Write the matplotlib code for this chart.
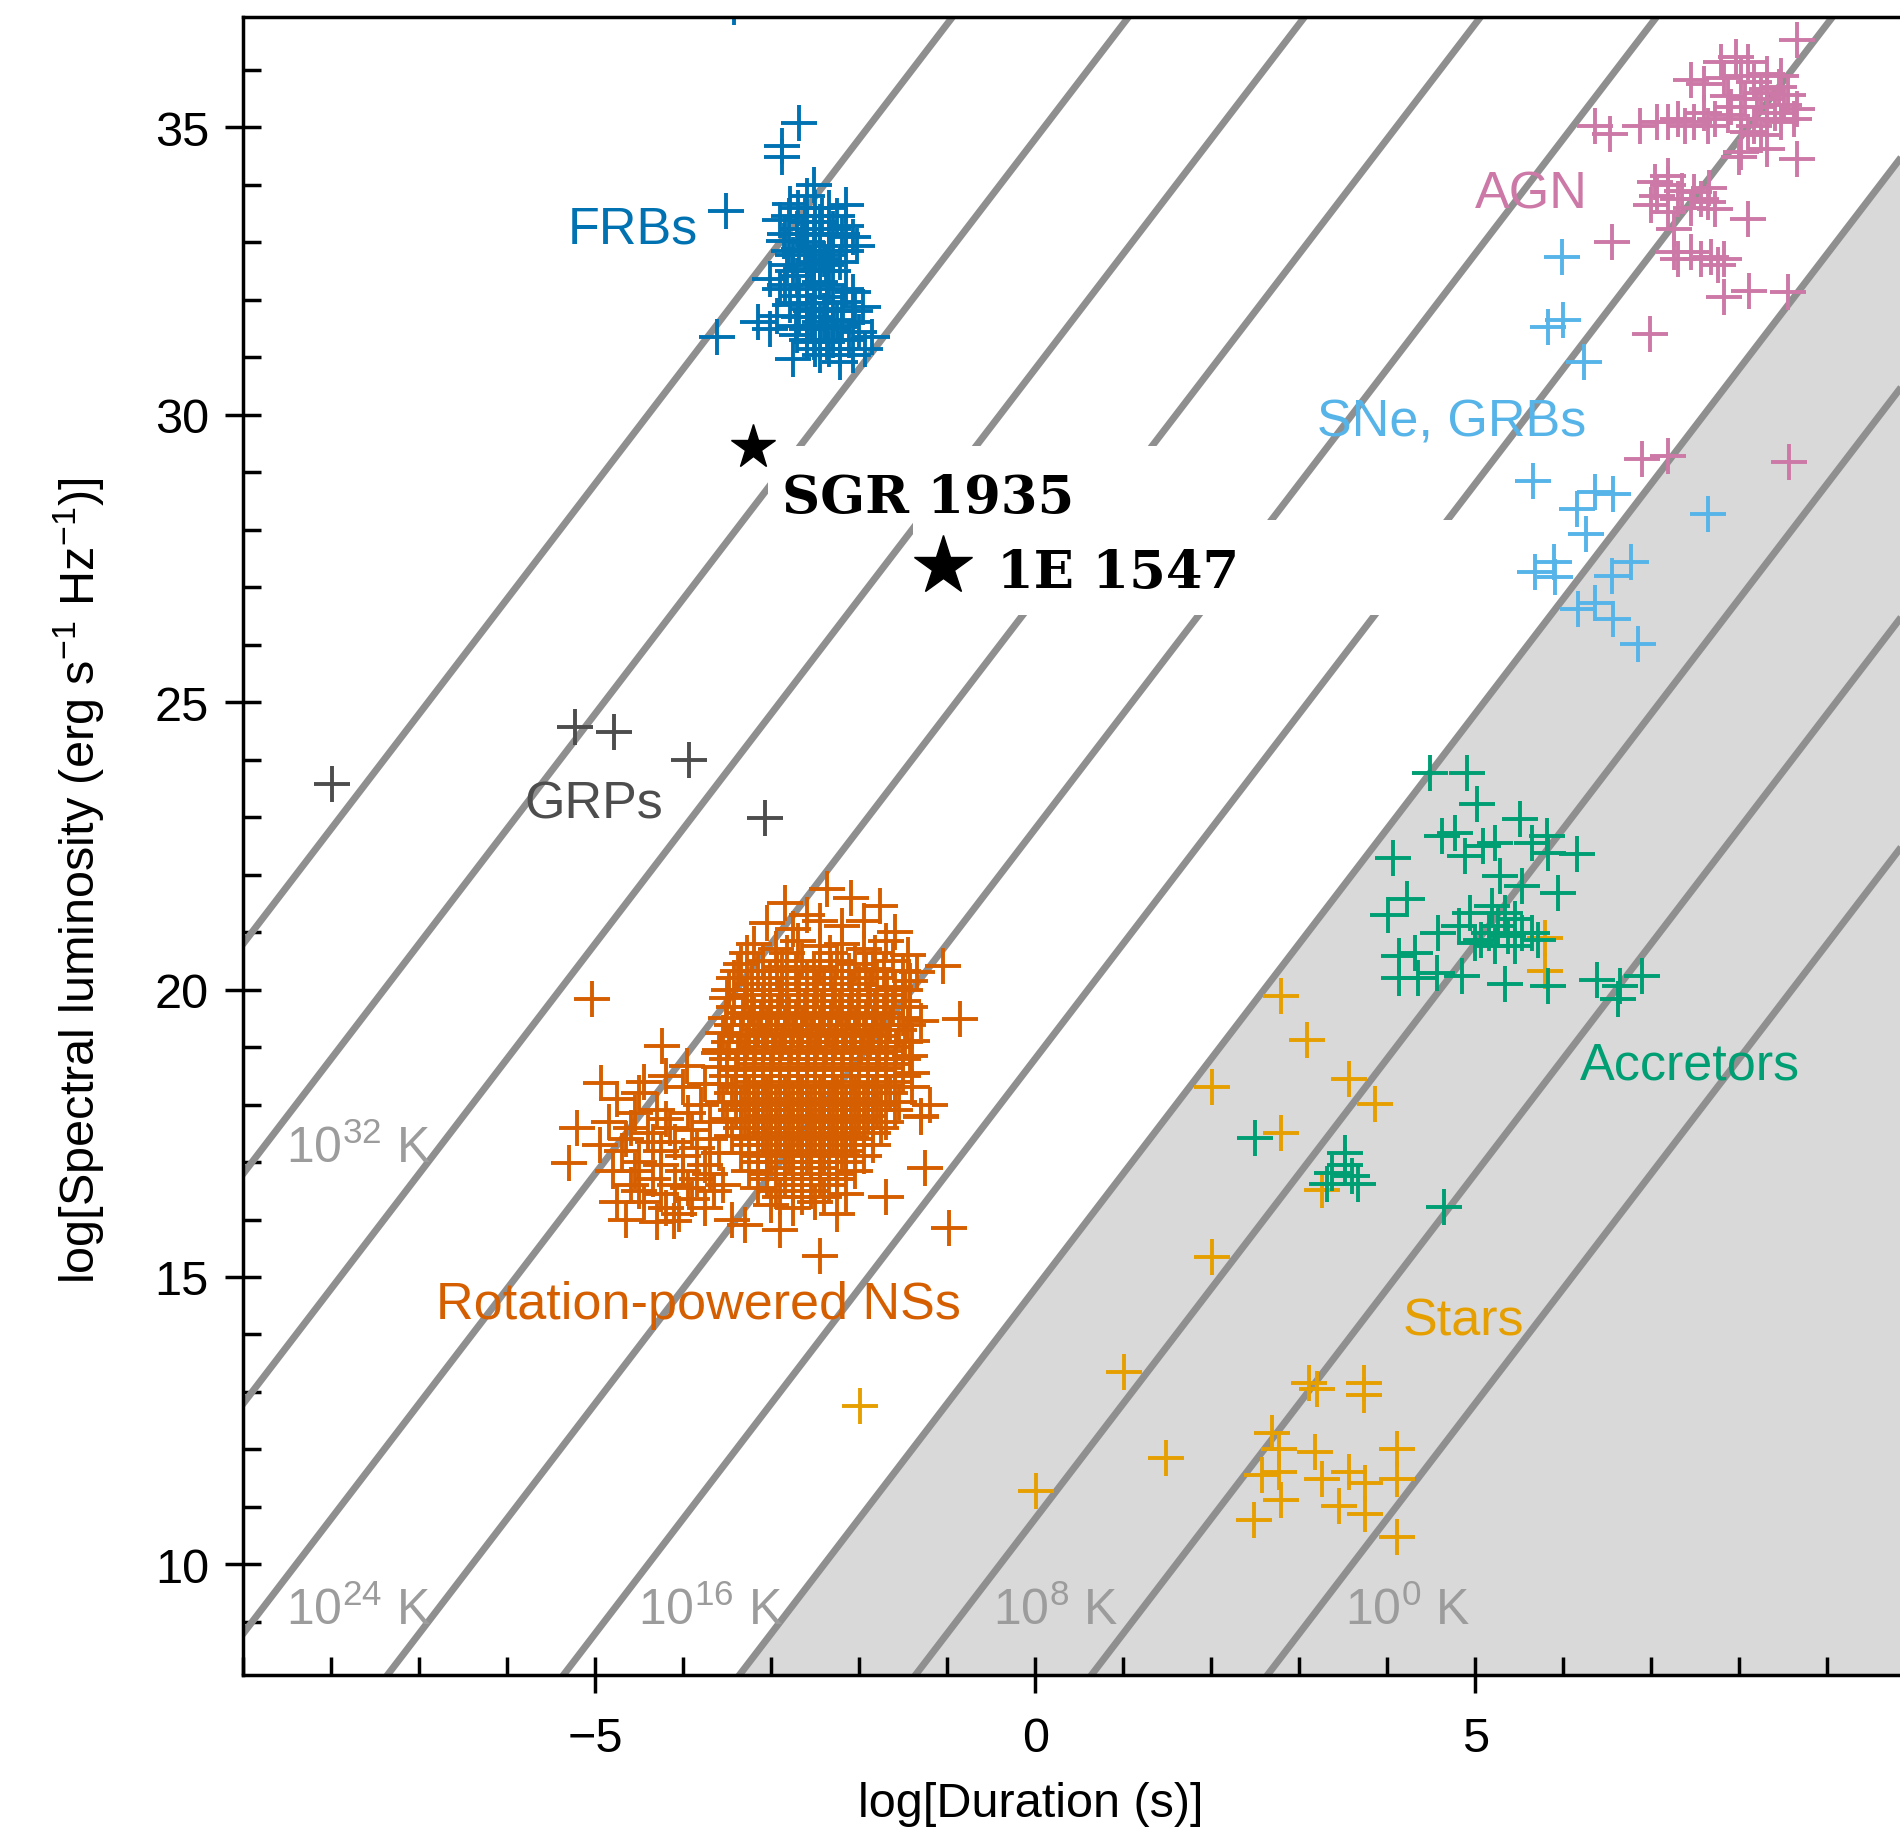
import numpy as np
import matplotlib
matplotlib.use("Agg")
import matplotlib.pyplot as plt
from matplotlib.patches import Rectangle

plt.rcParams['font.family'] = ['Liberation Sans', 'DejaVu Sans']
plt.rcParams['mathtext.fontset'] = 'custom'
plt.rcParams['mathtext.rm'] = 'Liberation Sans'
plt.rcParams['mathtext.it'] = 'Liberation Sans:italic'
plt.rcParams['mathtext.bf'] = 'Liberation Sans:bold'

# ---------------- data (log duration [s], log spectral luminosity) ----------------
frb_pts = [(-2.68,35.07),(-2.88,34.67),(-2.88,34.48),(-3.51,33.55),(-2.52,33.99),(-2.60,33.81),
           (-2.15,33.64),(-2.79,33.67),(-2.90,33.38),(-2.45,33.35),(-2.30,33.23),(-2.71,33.23),
           (-2.15,33.29),(-2.07,33.09),(-2.03,32.94),(-2.60,33.00),(-2.45,32.94),(-2.34,32.77),
           (-2.86,33.03),(-2.75,32.77),(-2.52,32.65),(-2.22,32.65),(-3.02,32.36),(-2.71,32.42),
           (-2.45,32.30),(-2.68,32.07),(-2.90,32.19),(-2.15,32.19),(-2.07,32.13),(-2.79,31.90),
           (-2.60,31.84),(-2.37,31.84),(-2.18,31.96),(-1.96,31.87),(-2.94,31.72),(-2.45,31.61),
           (-2.60,31.49),(-2.30,31.49),(-2.07,31.61),(-2.00,31.43),(-3.15,31.61),(-3.62,31.35),
           (-3.02,31.49),(-2.71,31.38),(-2.52,31.26),(-2.37,31.26),(-2.22,31.14),(-1.86,31.35),
           (-2.75,30.97),(-2.45,31.03),(-2.22,30.91),(-2.07,31.03),(-1.94,31.14),(-2.60,33.35),
           (-2.52,33.12),(-2.68,32.88),(-2.60,32.54),(-2.52,32.19),(-2.38,32.60),(-2.68,31.70),
           (-2.37,32.05),(-2.52,31.70),(-2.25,31.65),(-2.82,32.60),(-2.40,32.70),(-3.42,37.10),
           (-2.70,33.60),(-2.50,33.60),(-2.35,33.60),(-2.80,33.45),(-2.62,33.45),(-2.42,33.45),
           (-2.25,33.45),(-2.85,33.15),(-2.65,33.15),(-2.50,33.15),(-2.35,33.15),(-2.20,33.15),
           (-2.80,32.85),(-2.62,32.85),(-2.50,32.85),(-2.30,32.85),(-2.15,32.85),(-2.75,32.50),
           (-2.55,32.50),(-2.45,32.50),(-2.30,32.50),(-2.85,32.25),(-2.60,32.25),(-2.35,32.25),
           (-2.70,31.95),(-2.50,31.95),(-2.30,31.95),(-2.55,31.80),(-2.40,31.80),(-2.20,31.80),
           (-2.05,31.80),(-2.72,31.55),(-2.55,31.55),(-2.40,31.55),(-2.20,31.55),(-2.60,31.30),
           (-2.45,31.30),(-2.30,31.30),(-2.12,31.30),(-2.50,31.15),(-2.35,31.15)]

agn_pts = [(8.66,36.51),(7.96,36.22),(7.79,36.14),(8.10,36.14),(7.45,35.82),(7.60,35.76),
           (7.83,35.85),(8.02,35.90),(8.17,35.79),(8.32,35.93),(8.47,35.90),(8.32,35.67),
           (7.87,35.55),(8.06,35.50),(8.32,35.50),(8.55,35.56),(8.51,35.38),(8.66,35.32),
           (6.36,35.03),(6.53,34.89),(6.87,35.03),(7.06,35.09),(7.19,35.09),(7.30,35.15),
           (7.38,35.03),(7.49,35.09),(7.64,35.03),(7.72,35.15),(7.87,35.21),(8.02,35.15),
           (8.17,35.03),(8.32,35.15),(8.47,35.09),(8.62,35.15),(8.10,34.92),(8.25,34.86),
           (8.02,34.57),(8.32,34.63),(8.66,34.45),(8.00,34.48),(7.04,34.05),(7.19,34.16),
           (7.07,33.81),(7.00,33.64),(7.19,33.99),(7.49,33.87),(7.57,33.76),(7.64,33.70),
           (7.72,33.58),(7.30,33.76),(7.19,33.52),(8.10,33.41),(7.26,33.23),(6.55,33.00),
           (7.26,32.83),(7.30,32.71),(7.45,32.83),(7.57,32.71),(7.68,32.74),(7.76,32.60),
           (7.83,32.71),(7.83,32.04),(8.11,32.16),(8.55,32.13),(6.98,31.40),(6.89,29.23),
           (7.19,29.29),(8.56,29.18),(7.90,35.35),(8.20,35.35),(8.40,35.25),(7.60,35.25),
           (7.35,33.90),(7.45,33.60),(7.65,33.95),(8.25,35.60),(8.45,35.70)]

sne_pts = [(5.98,32.74),(5.83,31.52),(6.00,31.64),(6.23,30.91),(5.66,28.85),(6.15,28.36),
           (6.36,28.65),(6.57,28.62),(6.26,27.92),(5.68,27.26),(5.89,27.43),(5.90,27.17),
           (6.55,27.20),(6.77,27.43),(6.17,26.62),(6.36,26.73),(6.57,26.44),(6.85,26.01),
           (7.64,28.27)]

grp_pts = [(-7.99,23.57),(-5.23,24.57),(-4.79,24.48),(-3.94,24.00),(-3.07,22.99)]

acc_pts = [(4.49,23.77),(4.90,23.77),(5.02,23.22),(4.07,22.29),(4.62,22.67),(4.77,22.73),
           (4.88,22.32),(5.09,22.50),(5.22,22.55),(5.51,22.96),(5.64,22.55),(5.81,22.67),
           (5.83,22.38),(6.15,22.35),(5.28,21.97),(5.53,21.80),(5.94,21.68),(4.22,21.57),
           (4.01,21.30),(4.94,21.34),(5.19,21.45),(5.34,21.34),(5.45,21.22),(5.26,21.10),
           (5.15,20.99),(5.37,20.93),(5.53,20.99),(5.64,20.99),(5.71,20.87),(5.45,20.75),
           (5.22,20.75),(5.07,20.87),(5.00,20.81),(4.58,20.99),(4.81,21.10),(4.13,20.58),
           (4.32,20.64),(4.13,20.20),(4.35,20.20),(4.56,20.29),(4.85,20.23),(5.34,20.09),
           (5.83,20.06),(6.38,20.17),(6.64,20.06),(6.89,20.23),(6.62,19.83),
           (2.50,17.41),(3.52,16.95),(3.37,16.81),(3.60,16.75),(3.67,16.61),(3.32,16.61),
           (3.52,17.15),(4.64,16.21)]

star_pts = [(2.79,19.88),(3.09,19.12),(3.56,18.45),(3.86,18.01),(2.01,18.31),(2.79,17.51),
            (3.26,16.52),(2.01,15.35),(1.01,13.35),(1.48,11.85),(0.01,11.28),(3.11,13.15),
            (3.20,13.05),(3.73,13.15),(3.73,12.95),(2.69,12.28),(2.77,12.00),(3.18,11.95),
            (2.58,11.55),(2.77,11.61),(3.26,11.48),(3.56,11.61),(3.75,11.41),(4.11,12.00),
            (4.11,11.48),(2.79,11.12),(3.45,11.01),(3.75,10.88),(2.48,10.78),(4.11,10.48),
            (-1.99,12.76),(5.79,20.90),(5.79,20.32)]

ns_pts = [(-2.85,21.50),(-2.37,21.75),(-1.77,21.45),(-2.10,21.60),(-2.60,21.30),
          (-3.05,21.15),(-2.75,21.05),(-2.45,21.20),(-2.20,21.10),(-1.95,21.20),(-1.60,21.00),
          (-3.20,20.80),(-2.95,20.70),(-2.70,20.85),(-2.45,20.75),(-2.20,20.80),(-1.95,20.70),
          (-1.70,20.85),(-1.45,20.60),
          (-3.35,20.45),(-3.10,20.50),(-2.88,20.40),(-2.65,20.50),(-2.45,20.40),(-2.25,20.50),
          (-2.05,20.45),(-1.85,20.35),(-1.62,20.50),(-1.35,20.30),
          (-3.42,20.20),(-3.22,20.10),(-3.02,20.20),(-2.82,20.10),(-2.60,20.20),(-2.40,20.10),
          (-2.20,20.20),(-2.00,20.10),(-1.80,20.20),(-1.60,20.05),(-1.42,20.15),
          (-3.50,19.85),(-3.30,19.90),(-3.10,19.80),(-2.90,19.90),(-2.70,19.80),(-2.50,19.90),
          (-2.30,19.80),(-2.10,19.90),(-1.90,19.80),(-1.70,19.90),(-1.50,19.80),
          (-3.52,19.50),(-3.32,19.60),(-3.12,19.50),(-2.92,19.60),(-2.72,19.50),(-2.52,19.60),
          (-2.32,19.50),(-2.12,19.60),(-1.92,19.50),(-1.72,19.60),(-1.50,19.50),(-1.30,19.45),
          (-3.55,19.25),(-3.35,19.20),(-3.15,19.30),(-2.95,19.20),(-2.75,19.30),(-2.55,19.20),
          (-2.35,19.30),(-2.15,19.20),(-1.95,19.30),(-1.75,19.20),(-1.55,19.30),(-1.40,19.10),
          (-3.58,18.95),(-3.38,18.90),(-3.18,19.00),(-2.98,18.90),(-2.78,19.00),(-2.58,18.90),
          (-2.38,19.00),(-2.18,18.90),(-1.98,19.00),(-1.78,18.90),(-1.58,19.00),(-1.42,18.85),
          (-3.60,18.65),(-3.40,18.60),(-3.20,18.70),(-3.00,18.60),(-2.80,18.70),(-2.60,18.60),
          (-2.40,18.70),(-2.20,18.60),(-2.00,18.70),(-1.80,18.60),(-1.60,18.70),(-1.40,18.55),
          (-3.60,18.35),(-3.40,18.30),(-3.20,18.40),(-3.00,18.30),(-2.80,18.40),(-2.60,18.30),
          (-2.40,18.40),(-2.20,18.30),(-2.00,18.40),(-1.80,18.30),(-1.60,18.40),(-1.40,18.30),
          (-3.55,18.05),(-3.35,18.00),(-3.15,18.10),(-2.95,18.00),(-2.75,18.10),(-2.55,18.00),
          (-2.35,18.10),(-2.15,18.00),(-1.95,18.10),(-1.75,18.00),(-1.55,18.05),
          (-3.50,17.75),(-3.30,17.70),(-3.10,17.80),(-2.90,17.70),(-2.70,17.80),(-2.50,17.70),
          (-2.30,17.80),(-2.10,17.70),(-1.90,17.80),(-1.70,17.70),(-1.30,17.80),
          (-3.45,17.45),(-3.25,17.40),(-3.05,17.50),(-2.85,17.40),(-2.65,17.50),(-2.45,17.40),
          (-2.25,17.50),(-2.05,17.40),(-1.85,17.50),
          (-3.35,17.15),(-3.15,17.10),(-2.95,17.20),(-2.75,17.10),(-2.55,17.20),(-2.35,17.10),
          (-2.15,17.20),(-1.95,17.10),
          (-3.25,16.85),(-3.05,16.80),(-2.85,16.90),(-2.65,16.80),(-2.45,16.90),(-2.25,16.80),
          (-2.05,16.85),
          (-3.15,16.55),(-2.95,16.50),(-2.75,16.60),(-2.55,16.50),(-2.35,16.60),(-2.15,16.45),
          (-3.00,16.25),(-2.75,16.20),(-2.50,16.30),(-2.25,16.10),
          (-2.90,15.82),(-2.45,15.36),(-0.98,15.85),(-1.05,20.41),(-0.86,19.48),(-1.30,17.79),
          (-5.04,19.83),(-4.24,19.01),(-4.94,18.38),(-5.21,17.59),(-5.30,16.98),(-4.11,15.98),
          (-1.20,18.00),(-1.25,16.90),(-1.70,16.40),(-3.45,16.00),
          (-4.75,18.10),(-4.50,18.20),(-4.30,17.90),(-4.00,18.30),(-3.80,18.00),(-4.85,17.70),
          (-4.60,17.60),(-4.40,17.50),(-4.15,17.60),(-3.90,17.55),(-3.70,17.40),(-4.95,17.30),
          (-4.70,17.20),(-4.50,17.00),(-4.25,17.20),(-4.00,17.10),(-3.75,16.95),(-4.80,16.85),
          (-4.60,16.60),(-4.35,16.70),(-4.10,16.60),(-3.85,16.70),(-4.75,16.30),(-4.45,16.30),
          (-4.20,16.20),(-3.90,16.35),(-3.65,16.50),(-4.30,15.95),(-4.65,16.00),(-3.30,15.90),
          (-3.96,18.67),(-4.20,18.50),(-3.60,18.90),
          (-3.28,20.63),(-2.82,20.63),(-2.33,20.63),(-1.82,20.63),
          (-3.38,20.32),(-3.15,20.32),(-2.93,20.32),(-2.72,20.32),(-2.52,20.32),(-2.32,20.32),
          (-2.12,20.32),(-1.92,20.32),(-1.72,20.32),(-1.50,20.32),
          (-3.48,20.00),(-3.28,20.00),(-3.08,20.00),(-2.88,20.00),(-2.68,20.00),(-2.48,20.00),
          (-2.28,20.00),(-2.08,20.00),(-1.88,20.00),(-1.68,20.00),(-1.48,20.00),
          (-3.42,19.70),(-3.22,19.70),(-3.02,19.70),(-2.82,19.70),(-2.62,19.70),(-2.42,19.70),
          (-2.22,19.70),(-2.02,19.70),(-1.82,19.70),(-1.62,19.70),(-1.42,19.70),
          (-3.45,19.38),(-3.25,19.38),(-3.05,19.38),(-2.85,19.38),(-2.65,19.38),(-2.45,19.38),
          (-2.25,19.38),(-2.05,19.38),(-1.85,19.38),(-1.65,19.38),(-1.45,19.38),
          (-3.48,19.08),(-3.28,19.08),(-3.08,19.08),(-2.88,19.08),(-2.68,19.08),(-2.48,19.08),
          (-2.28,19.08),(-2.08,19.08),(-1.88,19.08),(-1.68,19.08),(-1.48,19.08),
          (-3.50,18.80),(-3.30,18.80),(-3.10,18.80),(-2.90,18.80),(-2.70,18.80),(-2.50,18.80),
          (-2.30,18.80),(-2.10,18.80),(-1.90,18.80),(-1.70,18.80),(-1.50,18.80),
          (-3.50,18.50),(-3.30,18.50),(-3.10,18.50),(-2.90,18.50),(-2.70,18.50),(-2.50,18.50),
          (-2.30,18.50),(-2.10,18.50),(-1.90,18.50),(-1.70,18.50),(-1.50,18.50),
          (-3.45,18.20),(-3.25,18.20),(-3.05,18.20),(-2.85,18.20),(-2.65,18.20),(-2.45,18.20),
          (-2.25,18.20),(-2.05,18.20),(-1.85,18.20),(-1.65,18.20),
          (-3.40,17.90),(-3.20,17.90),(-3.00,17.90),(-2.80,17.90),(-2.60,17.90),(-2.40,17.90),
          (-2.20,17.90),(-2.00,17.90),(-1.80,17.90),(-1.60,17.90),
          (-3.35,17.60),(-3.15,17.60),(-2.95,17.60),(-2.75,17.60),(-2.55,17.60),(-2.35,17.60),
          (-2.15,17.60),(-1.95,17.60),(-1.75,17.60),
          (-3.25,17.30),(-3.05,17.30),(-2.85,17.30),(-2.65,17.30),(-2.45,17.30),(-2.25,17.30),
          (-2.05,17.30),(-1.85,17.30),
          (-3.15,17.00),(-2.95,17.00),(-2.75,17.00),(-2.55,17.00),(-2.35,17.00),(-2.15,17.00),
          (-3.05,16.70),(-2.85,16.70),(-2.65,16.70),(-2.45,16.70),(-2.25,16.70),
          (-2.90,16.40),(-2.65,16.40),(-2.40,16.40),
          (-3.20,19.55),(-3.00,19.55),(-2.80,19.55),(-2.60,19.55),(-2.40,19.55),(-2.20,19.55),
          (-2.00,19.55),(-1.80,19.55),
          (-3.25,19.23),(-3.05,19.23),(-2.85,19.23),(-2.65,19.23),(-2.45,19.23),(-2.25,19.23),
          (-2.05,19.23),(-1.85,19.23),
          (-3.30,18.93),(-3.10,18.93),(-2.90,18.93),(-2.70,18.93),(-2.50,18.93),(-2.30,18.93),
          (-2.10,18.93),(-1.90,18.93),(-1.70,18.93),
          (-3.30,18.63),(-3.10,18.63),(-2.90,18.63),(-2.70,18.63),(-2.50,18.63),(-2.30,18.63),
          (-2.10,18.63),(-1.90,18.63),(-1.70,18.63),
          (-3.30,18.33),(-3.10,18.33),(-2.90,18.33),(-2.70,18.33),(-2.50,18.33),(-2.30,18.33),
          (-2.10,18.33),(-1.90,18.33),(-1.70,18.33),
          (-3.25,18.03),(-3.05,18.03),(-2.85,18.03),(-2.65,18.03),(-2.45,18.03),(-2.25,18.03),
          (-2.05,18.03),(-1.85,18.03),
          (-3.20,17.73),(-3.00,17.73),(-2.80,17.73),(-2.60,17.73),(-2.40,17.73),(-2.20,17.73),
          (-2.00,17.73),
          (-3.10,17.43),(-2.90,17.43),(-2.70,17.43),(-2.50,17.43),(-2.30,17.43),(-2.10,17.43),
          (-3.00,17.13),(-2.80,17.13),(-2.60,17.13),(-2.40,17.13),(-2.20,17.13),
          (-4.55,17.85),(-4.20,17.75),(-3.95,17.85),(-4.65,17.40),(-4.35,17.35),(-4.10,17.35),
          (-3.85,17.25),(-4.55,16.85),(-4.25,16.95),(-4.00,16.85),(-3.70,16.80),(-4.50,16.50),
          (-4.25,16.45),(-3.95,16.55),(-4.05,16.10),(-3.75,16.20),(-4.45,18.40),(-3.75,18.35),
          (-3.70,17.70),(-3.60,17.15),(-3.55,16.60)]

magnetars = {"SGR 1935": (-3.21, 29.43), "1E 1547": (-1.05, 27.37)}

tb_levels = [36, 32, 28, 24, 20, 16, 12, 8, 4, 0]     # log brightness temperature (K)
tb_const = 2.8                                          # log L = log T + const + 2 log t
tb_shade_level = 12
tb_labels = [(32, -8.52, 17.0), (24, -8.52, 8.97), (16, -4.51, 8.97), (8, -0.48, 8.97), (0, 3.52, 8.97)]

# ---------------- figure ----------------
W, H = 1900, 1831
fig = plt.figure(figsize=(W / 100, H / 100), dpi=100)
x_left_px, x_unit = 243.3, 88.0
y_top_px, y_bot_px = 17.9, 1675.8
ax = fig.add_axes([x_left_px / W, (H - y_bot_px) / H, 19 * x_unit / W, (y_bot_px - y_top_px) / H])
ax.set_xlim(-9, 10)
ax.set_ylim(8.08, 36.92)

xline = np.array([-10.0, 11.0])
ax.fill_between(xline, 0, tb_shade_level + tb_const + 2 * xline, color='#d9d9d9', lw=0, zorder=1)
for t in tb_levels:
    ax.plot(xline, t + tb_const + 2 * xline, color='#8f8f8f', lw=5.0, zorder=2,
            solid_capstyle='butt')

# white label boxes
ax.add_patch(Rectangle((-3.04, 28.16), 2.03 + 3.04, 29.46 - 28.16, facecolor='white',
                       edgecolor='none', zorder=3))
ax.add_patch(Rectangle((-1.39, 26.52), 5.16 + 1.39, 28.16 - 26.52, facecolor='white',
                       edgecolor='none', zorder=3))

mk = dict(linestyle='none', marker='+', ms=26.5, mew=2.8, zorder=4)
def draw(pts, color):
    xs = [p[0] for p in pts]
    ys = [p[1] for p in pts]
    ax.plot(xs, ys, color=color, **mk)

draw(ns_pts, '#D55E00')
draw(frb_pts, '#0072B2')
draw(grp_pts, '#4d4d4d')
draw(star_pts, '#E69F00')
draw(acc_pts, '#009E73')
draw(sne_pts, '#56B4E9')
draw(agn_pts, '#CC79A7')

# category labels
lab = dict(fontsize=37.5, va='baseline', ha='left', zorder=5)
ax.text(-5.31, 33.0, 'FRBs', color='#0072B2', **lab)
ax.text(4.99, 33.61, 'AGN', color='#CC79A7', **lab)
ax.text(3.20, 29.64, 'SNe, GRBs', color='#56B4E9', **lab)
ax.text(-5.81, 22.99, 'GRPs', color='#4d4d4d', **lab)
ax.text(-6.81, 14.28, 'Rotation-powered NSs', color='#D55E00', **lab)
ax.text(6.19, 18.46, 'Accretors', color='#009E73', **lab)
ax.text(4.18, 14.0, 'Stars', color='#E69F00', **lab)

for t, lx, ly in tb_labels:
    ax.text(lx, ly, '10$^{\\mathregular{%d}}$ K' % t, color='#9c9c9c', fontsize=36,
            va='baseline', ha='left', zorder=5)

# magnetar stars
sx, sy = magnetars["SGR 1935"]
ax.plot([sx], [sy], marker='*', ms=33, color='black', mec='black', linestyle='none', zorder=7)
ex, ey = magnetars["1E 1547"]
ax.plot([ex], [ey], marker='*', ms=44, color='black', mec='black', linestyle='none', zorder=7)
ax.text(-2.874, 28.30, 'SGR 1935', family='DejaVu Serif', weight='bold', fontsize=38,
        va='baseline', ha='left', zorder=7)
ax.text(-0.44, 27.01, '1E 1547', family='DejaVu Serif', weight='bold', fontsize=38,
        va='baseline', ha='left', zorder=7)

# axes styling
for s in ['top', 'left', 'bottom', 'right']:
    ax.spines[s].set_linewidth(2.5)
    ax.spines[s].set_zorder(8)
ax.set_xticks([-5, 0, 5])
ax.set_xticks(np.arange(-9, 11), minor=True)
ax.set_yticks([10, 15, 20, 25, 30, 35])
ax.set_yticks(np.arange(9, 37), minor=True)
ax.tick_params(which='major', direction='inout', length=26, width=2.5, labelsize=35)
ax.tick_params(which='minor', direction='in', length=13, width=2.5)
ax.tick_params(axis='y', which='major', pad=11.7)
ax.tick_params(axis='x', which='major', pad=17)
ax.tick_params(top=False, right=False, which='both')

ax.set_xlabel('log[Duration (s)]', fontsize=35)
ax.xaxis.set_label_coords((1031 - x_left_px) / (19 * x_unit), -(1805 - y_bot_px) / (y_bot_px - y_top_px))
ax.xaxis.label.set_va('center')
ax.set_ylabel('log[Spectral luminosity (erg s$^{\\mathregular{-1}}$ Hz$^{\\mathregular{-1}}$)]',
              fontsize=35)
ax.yaxis.set_label_coords((79 - x_left_px) / (19 * x_unit), (y_bot_px - 881) / (y_bot_px - y_top_px))
ax.yaxis.label.set_va('center')

fig.savefig('out.png', dpi=100)
